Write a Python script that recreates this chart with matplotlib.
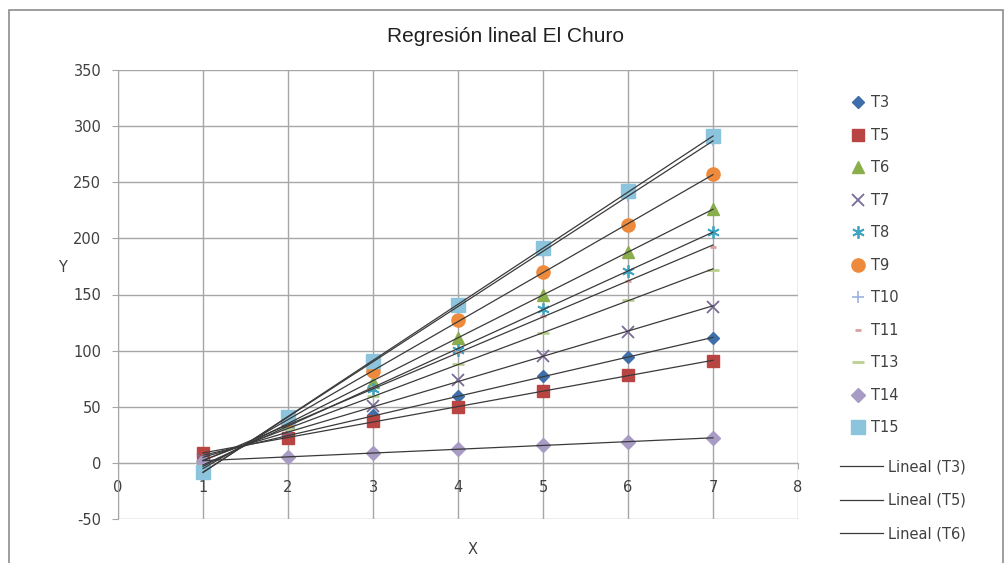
import numpy as np
import matplotlib
matplotlib.use("Agg")
import matplotlib.pyplot as plt
from matplotlib.lines import Line2D
from matplotlib.patches import Rectangle

plt.rcParams["axes.unicode_minus"] = False

# Measurements per treatment (x = 1..7)
x_vals = [1, 2, 3, 4, 5, 6, 7]
T3 = [5, 25, 43, 60, 77, 94, 111]
T5 = [9, 22, 37, 50, 64, 78, 91]
T6 = [-3, 36, 72, 111, 150, 188, 226]
T7 = [3, 28, 51, 74, 95, 117, 139]
T8 = [-1, 33, 66, 101, 137, 171, 206]
T9 = [-5, 38, 82, 127, 170, 212, 257]
T10 = [-6, 40, 89, 138, 188, 238, 288]
T11 = [-2, 36, 68, 99, 131, 162, 192]
T13 = [2, 30, 60, 88, 116, 145, 172]
T14 = [2, 5, 9, 12, 16, 19, 22]
T15 = [-8, 41, 91, 141, 191, 242, 291]

series_names = ["T3", "T5", "T6", "T7", "T8", "T9", "T10", "T11", "T13", "T14", "T15"]
series_values = [T3, T5, T6, T7, T8, T9, T10, T11, T13, T14, T15]
trend_legend = ["Lineal (T3)", "Lineal (T5)", "Lineal (T6)"]

x_ticks = [0, 1, 2, 3, 4, 5, 6, 7, 8]
y_ticks = [-50, 0, 50, 100, 150, 200, 250, 300, 350]

styles = {
    "T3": dict(marker="D", color="#3F6FAA", ms=6.5),
    "T5": dict(marker="s", color="#B94542", ms=8.5),
    "T6": dict(marker="^", color="#8AAE4C", ms=9),
    "T7": dict(marker="x", color="#7A6A96", ms=9, mew=1.3),
    "T8": dict(marker=(6, 2, 0), color="#3FA5C2", ms=9, mew=1.3),
    "T9": dict(marker="o", color="#EE8A3C", ms=9.5),
    "T10": dict(marker="+", color="#9DB2DE", ms=9, mew=1.2),
    "T11": dict(marker="_", color="#D9A0A0", ms=5, mew=2),
    "T13": dict(marker="_", color="#BBD08E", ms=9, mew=2),
    "T14": dict(marker="D", color="#A89CC4", ms=7),
    "T15": dict(marker="s", color="#8CC4DD", ms=10.5),
}

W, H = 1005, 563
fig = plt.figure(figsize=(W / 100, H / 100), dpi=100)
fig.patch.set_facecolor("white")

# chart frame
fig.add_artist(Rectangle((9 / W, -0.05), (1003 - 9) / W, 1.05 - 10 / H,
                         transform=fig.transFigure, fill=False,
                         edgecolor="#8C8C8C", lw=1.2))

left, right, top, bottom = 118, 798, 70, 519
ax = fig.add_axes([left / W, 1 - bottom / H, (right - left) / W, (bottom - top) / H])

grid_c = "#A6A6A6"
ax.set_xlim(0, 8)
ax.set_ylim(-50, 350)
ax.set_xticks(x_ticks)
ax.set_yticks(y_ticks)
ax.grid(True, color=grid_c, lw=1.0)
ax.set_axisbelow(True)
for s in ["top", "right"]:
    ax.spines[s].set_visible(False)
ax.spines["left"].set_color(grid_c)
ax.spines["bottom"].set_color(grid_c)
ax.spines["bottom"].set_position(("data", 0))

tick_font = dict(family="DejaVu Sans", size=10.5)
ax.tick_params(axis="both", colors=grid_c, labelcolor="#404040", length=4)
ax.tick_params(axis="x", pad=8)
ax.tick_params(axis="y", pad=8)
for lab in ax.get_xticklabels() + ax.get_yticklabels():
    lab.set_fontfamily(tick_font["family"])
    lab.set_fontsize(tick_font["size"])

xs = np.array(x_vals, dtype=float)
handles = []
for name, vals in zip(series_names, series_values):
    st = styles[name]
    h, = ax.plot(xs, vals, linestyle="none", marker=st["marker"], color=st["color"],
                 ms=st["ms"], mew=st.get("mew", 1.0), zorder=3, label=name)
    handles.append(h)

# linear trendlines
for name, vals in zip(series_names, series_values):
    k, b = np.polyfit(xs, vals, 1)
    ax.plot([xs[0], xs[-1]], [k * xs[0] + b, k * xs[-1] + b],
            color="#3A3A3A", lw=0.9, zorder=4)

fig.text(505 / W, 1 - 37 / H, "Regresión lineal El Churo", ha="center", va="center",
         fontsize=15, family="Liberation Sans", color="#202020")
fig.text(62 / W, 1 - 268 / H, "Y", ha="center", va="center", fontsize=10.5,
         family="DejaVu Sans", color="#404040")
fig.text(473 / W, 1 - 549 / H, "X", ha="center", va="center", fontsize=10.5,
         family="DejaVu Sans", color="#404040")

fig.legend(handles=handles, labels=series_names, loc="upper left",
           bbox_to_anchor=(843 / W, 1 - 88 / H), frameon=False,
           handlelength=1.0, handletextpad=0.4, labelspacing=1.2,
           prop=dict(family="DejaVu Sans", size=10.5), borderpad=0,
           labelcolor="#404040")
trend_lines = [Line2D([], [], color="#3A3A3A", lw=0.9) for _ in trend_legend]
fig.legend(handles=trend_lines, labels=trend_legend, loc="upper left",
           bbox_to_anchor=(833 / W, 1 - 452 / H), frameon=False,
           handlelength=2.95, handletextpad=0.35, labelspacing=1.26,
           prop=dict(family="DejaVu Sans", size=10.5), borderpad=0,
           labelcolor="#404040")

fig.savefig("out.png", dpi=100, facecolor="white")
